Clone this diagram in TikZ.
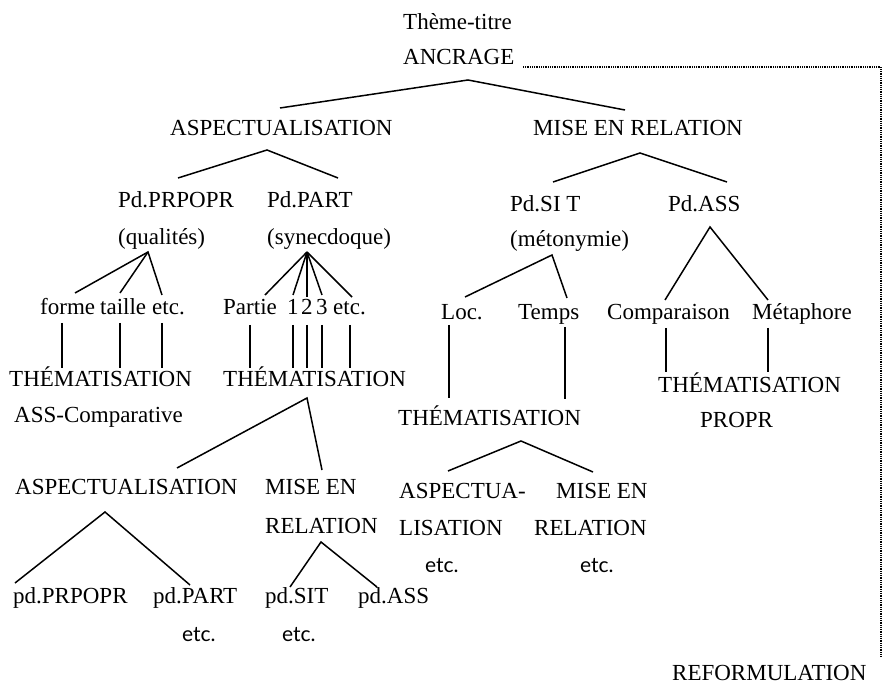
\documentclass[tikz,border=0pt]{standalone}
\usepackage{fontspec}
\setmainfont{Liberation Serif}
\newfontfamily\etcfont{Lato}
\begin{document}
\begin{tikzpicture}[x=1pt,y=-1pt,
  lab/.style={inner sep=0pt, text height=15pt, text depth=5pt, anchor=base west, font=\fontsize{23}{27}\selectfont},
  etclab/.style={lab, font=\fontsize{21}{25}\etcfont},
  br/.style={line width=1.5pt},
  dots/.style={line width=1.3pt, dash pattern=on 0.9pt off 0.9pt}]
\useasboundingbox (0,0) rectangle (884,684);
% nodes
\node[lab] (theme) at (403,30) {Thème-titre};
\node[lab] (ancr) at (403,65) {ANCRAGE};
\node[lab] (asp1) at (170,136) {ASPECTUALISATION};
\node[lab] (mer1) at (533,136) {MISE EN RELATION};
\node[lab] (prpopr) at (118,208) {Pd.PRPOPR};
\node[lab] (part) at (267,208) {Pd.PART};
\node[lab] (qual) at (118,245) {(qualités)};
\node[lab] (syn) at (267,245) {(synecdoque)};
\node[lab] (forme) at (40,315) {forme};
\node[lab] (taille) at (100,315) {taille};
\node[lab] (etca) at (152,315) {etc.};
\node[lab] (partie) at (223,315) {Partie};
\node[lab] (one) at (287,315) {1};
\node[lab] (two) at (301,315) {2};
\node[lab] (three) at (316,315) {3};
\node[lab] (etcb) at (333,315) {etc.};
\node[lab] (thema) at (9,387) {THÉMATISATION};
\node[lab] (asscomp) at (14,423) {ASS-Comparative};
\node[lab] (themb) at (223,387) {THÉMATISATION};
\node[lab] (aspc) at (15,495) {ASPECTUALISATION};
\node[lab] (misec) at (265,495) {MISE EN};
\node[lab] (relc) at (265,533) {RELATION};
\node[lab] (pdprp) at (13,603) {pd.PRPOPR};
\node[lab] (pdpart) at (153,603) {pd.PART};
\node[lab] (pdsit) at (265,603) {pd.SIT};
\node[lab] (pdass) at (358,603) {pd.ASS};
\node[etclab] (etcc) at (182,641) {etc.};
\node[etclab] (etcd) at (282,641) {etc.};
\node[lab] (psit) at (510,212) {Pd.SI T};
\node[lab] (pass) at (668,212) {Pd.ASS};
\node[lab] (meto) at (510,247) {(métonymie)};
\node[lab] (loc) at (441,320) {Loc.};
\node[lab] (temps) at (518,320) {Temps};
\node[lab] (comp) at (607,320) {Comparaison};
\node[lab] (meta) at (752,320) {Métaphore};
\node[lab] (themc) at (398,426) {THÉMATISATION};
\node[lab] (themd) at (658,393) {THÉMATISATION};
\node[lab] (propr) at (700,428) {PROPR};
\node[lab] (aspa) at (399,498) {ASPECTUA-};
\node[lab] (lisa) at (399,535) {LISATION};
\node[lab] (misee) at (556,498) {MISE EN};
\node[lab] (rele) at (534,535) {RELATION};
\node[etclab] (etce) at (425,572) {etc.};
\node[etclab] (etcf) at (580,572) {etc.};
\node[lab] (refo) at (672,680) {REFORMULATION};
% branches
\draw[br] ([shift={(110,-28)}]asp1.base west) -- ([shift={(65,15)}]ancr.base west) -- ([shift={(92,-26)}]mer1.base west);
\draw[br] ([shift={(60,-30)}]prpopr.base west) -- ([shift={(97,14)}]asp1.base west) -- ([shift={(71,-30)}]part.base west);
\draw[br] ([shift={(43,-30)}]psit.base west) -- ([shift={(107,17)}]mer1.base west) -- ([shift={(59,-30)}]pass.base west);
\draw[br] ([shift={(35,-22)}]forme.base west) -- ([shift={(30,7)}]qual.base west) -- ([shift={(10,-20)}]etca.base west);
\draw[br] ([shift={(30,7)}]qual.base west) -- ([shift={(20,-22)}]taille.base west);
\draw[br] ([shift={(40,7)}]syn.base west) -- ([shift={(42,-20)}]partie.base west);
\draw[br] ([shift={(40,7)}]syn.base west) -- ([shift={(6,-20)}]one.base west);
\draw[br] ([shift={(40,7)}]syn.base west) -- ([shift={(6,-18)}]two.base west);
\draw[br] ([shift={(40,7)}]syn.base west) -- ([shift={(6,-20)}]three.base west);
\draw[br] ([shift={(40,7)}]syn.base west) -- ([shift={(19,-18)}]etcb.base west);
\draw[br] ([shift={(22,8)}]forme.base west) -- ([shift={(53,-19)}]thema.base west);
\draw[br] ([shift={(20,8)}]taille.base west) -- ([shift={(111,-19)}]thema.base west);
\draw[br] ([shift={(10,8)}]etca.base west) -- ([shift={(153,-19)}]thema.base west);
\draw[br] ([shift={(27,10)}]partie.base west) -- ([shift={(27,-19)}]themb.base west);
\draw[br] ([shift={(6,10)}]one.base west) -- ([shift={(70,-19)}]themb.base west);
\draw[br] ([shift={(6,10)}]two.base west) -- ([shift={(84,-19)}]themb.base west);
\draw[br] ([shift={(6,10)}]three.base west) -- ([shift={(99,-19)}]themb.base west);
\draw[br] ([shift={(17,10)}]etcb.base west) -- ([shift={(127,-19)}]themb.base west);
\draw[br] ([shift={(162,-27)}]aspc.base west) -- ([shift={(84,11)}]themb.base west) -- ([shift={(57,-25)}]misec.base west);
\draw[br] ([shift={(2,-20)}]pdprp.base west) -- ([shift={(90,17)}]aspc.base west) -- ([shift={(37,-18)}]pdpart.base west);
\draw[br] ([shift={(25,-16)}]pdsit.base west) -- ([shift={(56,9)}]relc.base west) -- ([shift={(19,-16)}]pdass.base west);
\draw[br] ([shift={(24,-23)}]loc.base west) -- ([shift={(42,8)}]meto.base west) -- ([shift={(49,-22)}]temps.base west);
\draw[br] ([shift={(58,-20)}]comp.base west) -- ([shift={(42,15)}]pass.base west) -- ([shift={(16,-20)}]meta.base west);
\draw[br] ([shift={(8,5)}]loc.base west) -- ([shift={(51,-28)}]themc.base west);
\draw[br] ([shift={(47,7)}]temps.base west) -- ([shift={(167,-27)}]themc.base west);
\draw[br] ([shift={(59,8)}]comp.base west) -- ([shift={(8,-21)}]themd.base west);
\draw[br] ([shift={(16,8)}]meta.base west) -- ([shift={(110,-21)}]themd.base west);
\draw[br] ([shift={(49,-27)}]aspa.base west) -- ([shift={(123,15)}]themc.base west) -- ([shift={(37,-26)}]misee.base west);
% reformulation link
\draw[dots] ([shift={(120,2)}]ancr.base west) -| ([shift={(209,-23)}]refo.base west);
\end{tikzpicture}
\end{document}
